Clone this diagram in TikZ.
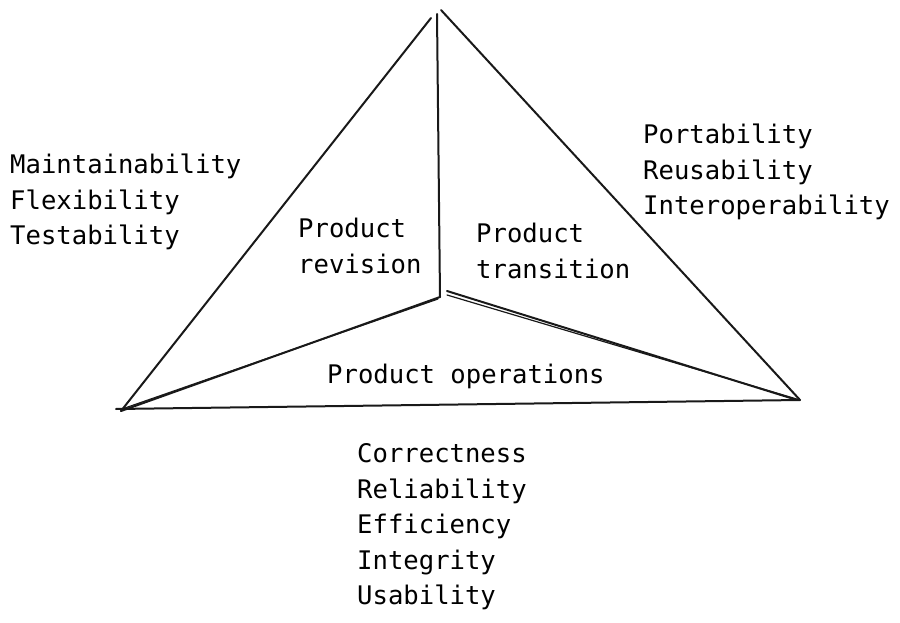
\documentclass[tikz,border=0pt]{standalone}
\usepackage{fontspec}
\setmonofont{DejaVu Sans Mono}
\tikzset{
  edge/.style={line width=2pt,line cap=round,black!90},
  thin edge/.style={line width=1.2pt,line cap=round,black!90},
  label/.style={font=\ttfamily\fontsize{25.6}{35.5}\selectfont,align=left,inner sep=0pt,anchor=west}
}
\begin{document}
\begin{tikzpicture}[x=1pt,y=-1pt]
\useasboundingbox (0,0) rectangle (900,623);
\coordinate (apex) at (437,14);
\coordinate (apexr) at (441,10);
\coordinate (lft) at (121,411);
\coordinate (rgt) at (800,400);
\coordinate (ctr) at (440,297);
\coordinate (ctrr) at (447,291);

\draw [edge] (lft) -- (431,18);
\draw [edge] (apexr) -- (rgt);
\draw [edge] (apex) -- (ctr);
\draw [edge] (116,409) -- (rgt);
\draw [edge] (ctr) -- (lft);
\draw [thin edge] (438,299) -- (125,408);
\draw [edge] (ctrr) -- (797,400);
\draw [thin edge] (447,295) -- (rgt);

\node [label] (revision) at (298,246) {Product\\revision};
\node [label] (transition) at (476,251) {Product\\transition};
\node [label] (operations) at (327,376) {Product operations};

\node [label] (left list) at (10,202) {Maintainability\\Flexibility\\Testability};
\node [label] (right list) at (643,172) {Portability\\Reusability\\Interoperability};
\node [label] (bottom list) at (357,527) {Correctness\\Reliability\\Efficiency\\Integrity\\Usability};
\end{tikzpicture}
\end{document}
